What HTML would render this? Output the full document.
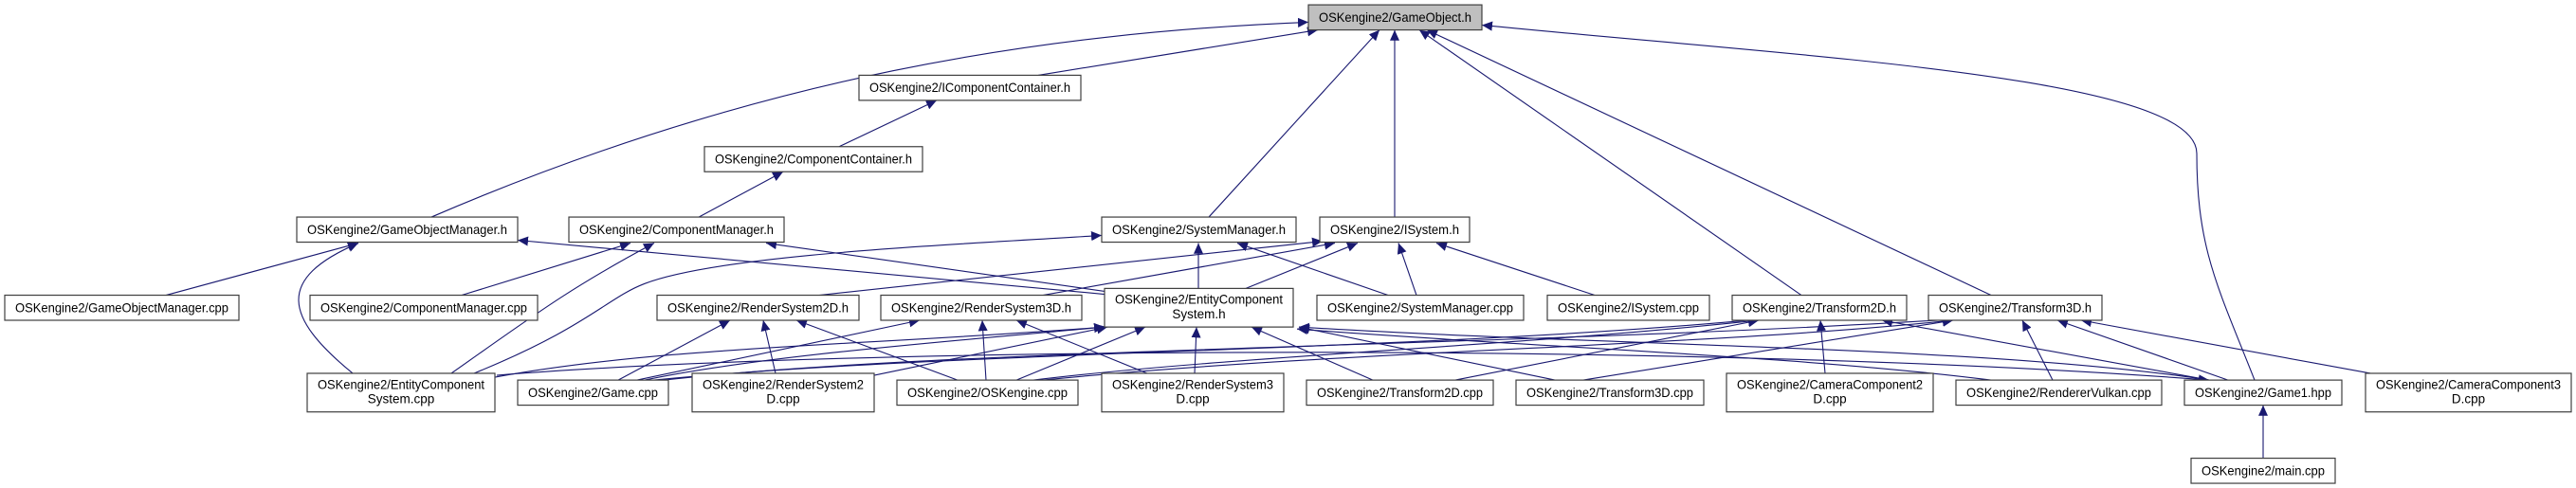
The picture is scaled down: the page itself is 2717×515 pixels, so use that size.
<!DOCTYPE html>
<html><head><meta charset="utf-8"><style>
html,body{margin:0;padding:0;background:#fff;}
svg{display:block;}
text{font-family:"Liberation Sans",sans-serif;font-size:13.5px;fill:#000;}
.b{fill:#fff;stroke:#404040;stroke-width:1.2;}
.e{fill:none;stroke:#191970;stroke-width:1.1;marker-end:url(#a);}
</style></head><body>
<svg width="2717" height="515" viewBox="0 0 2717 515" xmlns="http://www.w3.org/2000/svg">
<defs><marker id="a" markerUnits="userSpaceOnUse" markerWidth="12" markerHeight="10" refX="11" refY="5" orient="auto"><path d="M0,0 L11,5 L0,10 z" fill="#191970"/></marker></defs>
<g transform="translate(0,-1) scale(1,1.018)">
<!-- edges -->
<path class="e" d="M455,226 C800,80 1100,35 1380,24"/>
<path class="e" d="M1095,79 L1390,32"/>
<path class="e" d="M885,153 L988,105"/>
<path class="e" d="M737,226 L826,179"/>
<path class="e" d="M1275,226 L1455,32"/>
<path class="e" d="M1471,226 L1471,32"/>
<path class="e" d="M1900,307 L1497,32"/>
<path class="e" d="M2100,307 L1505,32"/>
<path class="e" d="M2378,395 C2340,300 2317,260 2317,160 C2317,80 1900,60 1563,27"/>
<path class="e" d="M175,307 L378,253"/>
<path class="e" d="M372,388 C300,330 290,290 378,253"/>
<path class="e" d="M1165,306 L546,250"/>
<path class="e" d="M487,307 L665,253"/>
<path class="e" d="M476,388 C560,330 600,300 690,253"/>
<path class="e" d="M1165,303 L808,253"/>
<path class="e" d="M500,388 C620,340 640,310 680,295 C760,265 1000,255 1162,245"/>
<path class="e" d="M1264,300 L1264,253"/>
<path class="e" d="M1464,307 L1305,253"/>
<path class="e" d="M864,307 L1395,251"/>
<path class="e" d="M1100,307 L1408,253"/>
<path class="e" d="M1314,300 L1432,253"/>
<path class="e" d="M1494,307 L1475,253"/>
<path class="e" d="M1682,307 L1515,253"/>
<path class="e" d="M652,395 L770,333"/>
<path class="e" d="M818,388 L805,333"/>
<path class="e" d="M1010,395 L840,333"/>
<path class="e" d="M672,395 L970,333"/>
<path class="e" d="M1040,395 L1036,333"/>
<path class="e" d="M1210,388 L1072,333"/>
<path class="e" d="M522,392 C700,360 900,360 1165,340"/>
<path class="e" d="M680,395 C800,370 1000,355 1165,340"/>
<path class="e" d="M922,390 L1168,340"/>
<path class="e" d="M1072,395 L1208,340"/>
<path class="e" d="M1260,388 L1262,340"/>
<path class="e" d="M1448,395 L1320,340"/>
<path class="e" d="M1640,395 L1370,340"/>
<path class="e" d="M2330,395 C2100,360 1700,360 1370,340"/>
<path class="e" d="M2100,395 C1900,370 1600,360 1368,342"/>
<path class="e" d="M690,395 C1000,365 1500,365 1855,332"/>
<path class="e" d="M1090,395 C1300,370 1600,360 1855,333"/>
<path class="e" d="M1535,395 L1855,333"/>
<path class="e" d="M1925,388 L1920,333"/>
<path class="e" d="M2330,395 L1985,333"/>
<path class="e" d="M700,395 C1000,362 1600,360 2060,332"/>
<path class="e" d="M1100,395 C1400,365 1800,360 2060,333"/>
<path class="e" d="M1670,395 L2060,333"/>
<path class="e" d="M2165,395 L2133,333"/>
<path class="e" d="M2350,395 L2170,333"/>
<path class="e" d="M2500,388 L2195,333"/>
<path class="e" d="M524,390 C900,360 1800,355 2330,395"/>
<path class="e" d="M2387,476 L2387,421"/>

<!-- nodes -->
<rect x="1380" y="6" width="183" height="26" fill="#bfbfbf" stroke="#404040" stroke-width="1.2"/>
<text x="1471.5" y="23.5" text-anchor="middle" textLength="161" lengthAdjust="spacingAndGlyphs">OSKengine2/GameObject.h</text>

<rect class="b" x="906" y="79" width="234" height="26"/>
<text x="1023" y="96.5" text-anchor="middle" textLength="212" lengthAdjust="spacingAndGlyphs">OSKengine2/IComponentContainer.h</text>

<rect class="b" x="743" y="153" width="230" height="26"/>
<text x="858" y="170.5" text-anchor="middle" textLength="208" lengthAdjust="spacingAndGlyphs">OSKengine2/ComponentContainer.h</text>

<rect class="b" x="313" y="226" width="233" height="26"/>
<text x="429.5" y="243.5" text-anchor="middle" textLength="211" lengthAdjust="spacingAndGlyphs">OSKengine2/GameObjectManager.h</text>

<rect class="b" x="600" y="226" width="227" height="26"/>
<text x="713.5" y="243.5" text-anchor="middle" textLength="205" lengthAdjust="spacingAndGlyphs">OSKengine2/ComponentManager.h</text>

<rect class="b" x="1162" y="226" width="205" height="26"/>
<text x="1264.5" y="243.5" text-anchor="middle" textLength="183" lengthAdjust="spacingAndGlyphs">OSKengine2/SystemManager.h</text>

<rect class="b" x="1392" y="226" width="158" height="26"/>
<text x="1471" y="243.5" text-anchor="middle" textLength="136" lengthAdjust="spacingAndGlyphs">OSKengine2/ISystem.h</text>

<rect class="b" x="5" y="307" width="247" height="26"/>
<text x="128.5" y="324.5" text-anchor="middle" textLength="225" lengthAdjust="spacingAndGlyphs">OSKengine2/GameObjectManager.cpp</text>

<rect class="b" x="327" y="307" width="240" height="26"/>
<text x="447" y="324.5" text-anchor="middle" textLength="218" lengthAdjust="spacingAndGlyphs">OSKengine2/ComponentManager.cpp</text>

<rect class="b" x="693" y="307" width="213" height="26"/>
<text x="799.5" y="324.5" text-anchor="middle" textLength="191" lengthAdjust="spacingAndGlyphs">OSKengine2/RenderSystem2D.h</text>

<rect class="b" x="929" y="307" width="212" height="26"/>
<text x="1035" y="324.5" text-anchor="middle" textLength="190" lengthAdjust="spacingAndGlyphs">OSKengine2/RenderSystem3D.h</text>

<rect class="b" x="1165" y="300" width="199" height="40"/>
<text x="1264.5" y="316" text-anchor="middle" textLength="177" lengthAdjust="spacingAndGlyphs">OSKengine2/EntityComponent</text>
<text x="1264.5" y="331" text-anchor="middle">System.h</text>

<rect class="b" x="1389" y="307" width="218" height="26"/>
<text x="1498" y="324.5" text-anchor="middle" textLength="196" lengthAdjust="spacingAndGlyphs">OSKengine2/SystemManager.cpp</text>

<rect class="b" x="1632" y="307" width="171" height="26"/>
<text x="1717.5" y="324.5" text-anchor="middle" textLength="149" lengthAdjust="spacingAndGlyphs">OSKengine2/ISystem.cpp</text>

<rect class="b" x="1827" y="307" width="184" height="26"/>
<text x="1919" y="324.5" text-anchor="middle" textLength="162" lengthAdjust="spacingAndGlyphs">OSKengine2/Transform2D.h</text>

<rect class="b" x="2034" y="307" width="183" height="26"/>
<text x="2125.5" y="324.5" text-anchor="middle" textLength="161" lengthAdjust="spacingAndGlyphs">OSKengine2/Transform3D.h</text>

<rect class="b" x="324" y="388" width="198" height="40"/>
<text x="423" y="404" text-anchor="middle" textLength="176" lengthAdjust="spacingAndGlyphs">OSKengine2/EntityComponent</text>
<text x="423" y="419" text-anchor="middle">System.cpp</text>

<rect class="b" x="546" y="395" width="159" height="26"/>
<text x="625.5" y="412.5" text-anchor="middle" textLength="137" lengthAdjust="spacingAndGlyphs">OSKengine2/Game.cpp</text>

<rect class="b" x="730" y="388" width="192" height="40"/>
<text x="826" y="404" text-anchor="middle" textLength="170" lengthAdjust="spacingAndGlyphs">OSKengine2/RenderSystem2</text>
<text x="826" y="419" text-anchor="middle">D.cpp</text>

<rect class="b" x="946" y="395" width="191" height="26"/>
<text x="1041.5" y="412.5" text-anchor="middle" textLength="169" lengthAdjust="spacingAndGlyphs">OSKengine2/OSKengine.cpp</text>

<rect class="b" x="1162" y="388" width="192" height="40"/>
<text x="1258" y="404" text-anchor="middle" textLength="170" lengthAdjust="spacingAndGlyphs">OSKengine2/RenderSystem3</text>
<text x="1258" y="419" text-anchor="middle">D.cpp</text>

<rect class="b" x="1378" y="395" width="197" height="26"/>
<text x="1476.5" y="412.5" text-anchor="middle" textLength="175" lengthAdjust="spacingAndGlyphs">OSKengine2/Transform2D.cpp</text>

<rect class="b" x="1599" y="395" width="198" height="26"/>
<text x="1698" y="412.5" text-anchor="middle" textLength="176" lengthAdjust="spacingAndGlyphs">OSKengine2/Transform3D.cpp</text>

<rect class="b" x="1821" y="388" width="218" height="40"/>
<text x="1930" y="404" text-anchor="middle" textLength="196" lengthAdjust="spacingAndGlyphs">OSKengine2/CameraComponent2</text>
<text x="1930" y="419" text-anchor="middle">D.cpp</text>

<rect class="b" x="2063" y="395" width="217" height="26"/>
<text x="2171.5" y="412.5" text-anchor="middle" textLength="195" lengthAdjust="spacingAndGlyphs">OSKengine2/RendererVulkan.cpp</text>

<rect class="b" x="2304" y="395" width="166" height="26"/>
<text x="2387" y="412.5" text-anchor="middle" textLength="144" lengthAdjust="spacingAndGlyphs">OSKengine2/Game1.hpp</text>

<rect class="b" x="2495" y="388" width="217" height="40"/>
<text x="2603.5" y="404" text-anchor="middle" textLength="195" lengthAdjust="spacingAndGlyphs">OSKengine2/CameraComponent3</text>
<text x="2603.5" y="419" text-anchor="middle">D.cpp</text>

<rect class="b" x="2311" y="476" width="152" height="26"/>
<text x="2387" y="493.5" text-anchor="middle" textLength="130" lengthAdjust="spacingAndGlyphs">OSKengine2/main.cpp</text>
</g>
</svg>
</body></html>
